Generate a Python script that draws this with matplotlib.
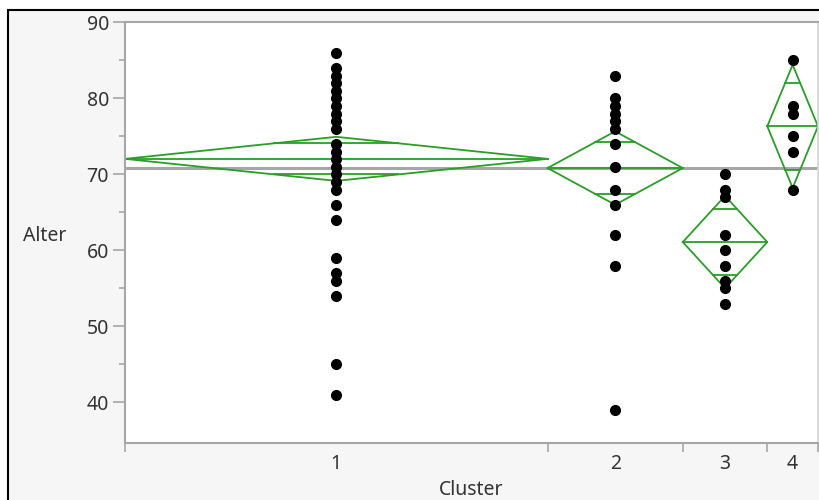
import matplotlib.pyplot as plt
import matplotlib.patches as patches
import numpy as np

plt.rcParams['font.family'] = ['Noto Sans', 'DejaVu Sans']

# # # # # # # # # #   DATA   # # # # # # # # # #

# Alter per cluster (one dot per distinct value)
alter_c1 = [86, 84, 83, 82, 81, 80, 79, 78, 77, 76, 74, 73, 72, 71, 70, 69, 68,
            66, 64, 59, 57, 56, 54, 45, 41]
alter_c2 = [83, 80, 79, 78, 77, 76, 74, 71, 68, 66, 62, 58, 39]
alter_c3 = [70, 68, 67, 62, 60, 58, 56, 55, 53]
alter_c4 = [85, 79, 78, 75, 73, 68]

cluster_labels = ['1', '2', '3', '4']
cluster_n = [50, 16, 10, 6]                 # group sizes -> x widths
cluster_mean = [72.05, 70.84, 61.1, 76.33]
cluster_ci = [2.9, 4.83, 6.07, 8.1]         # 95% CI half width of the mean

groups = [alter_c1, alter_c2, alter_c3, alter_c4]

# x layout proportional to group size
edges = np.concatenate([[0], np.cumsum(cluster_n)])
centers = edges[:-1] + np.array(cluster_n) / 2.0
grand_mean = np.average(cluster_mean, weights=cluster_n)

# # # # # # # # # #   FIGURE   # # # # # # # # # #

fig = plt.figure(figsize=(8.2, 5), dpi=100)
fig.patch.set_facecolor('white')
frame = patches.Rectangle((8 / 820, -0.05), 1.0, 0.98 + 0.05, transform=fig.transFigure,
                          facecolor='#f6f6f6', edgecolor='black', linewidth=1.5, zorder=-10)
fig.add_artist(frame)

ax = fig.add_axes([125 / 820, 57.3 / 500, 693 / 820, 421 / 500])
ax.set_facecolor('white')

green = '#2a9d2a'
grey = '#a6a6a6'

# grand mean
ax.axhline(grand_mean, color=grey, linewidth=2.2, zorder=1)

# mean diamonds with overlap marks
for i in range(len(groups)):
    left, right = edges[i], edges[i + 1]
    c = centers[i]
    m = cluster_mean[i]
    h = cluster_ci[i]
    half = (right - left) / 2.0
    ax.plot([left, c, right, c, left], [m, m + h, m, m - h, m],
            color=green, linewidth=1.3, zorder=2)
    ax.plot([left, right], [m, m], color=green, linewidth=1.3, zorder=2)
    d = h / np.sqrt(2)
    w = half * (1 - d / h)
    for y in [m + d, m - d]:
        ax.plot([c - w, c + w], [y, y], color=green, linewidth=1.3, zorder=2)

# data points
for i, vals in enumerate(groups):
    ax.plot(np.full(len(vals), centers[i]), vals, 'o', color='black',
            markersize=7, zorder=5, clip_on=False)

# # # # # # # # # #   AXES   # # # # # # # # # #

ax.set_xlim(0, edges[-1])
ax.set_ylim(34.7, 90.1)

for side in ['left', 'bottom', 'top']:
    ax.spines[side].set_color(grey)
    ax.spines[side].set_linewidth(1.5)
ax.spines['right'].set_color('#d4d4d4')
ax.spines['right'].set_linewidth(1.2)

ax.set_yticks(np.arange(40, 91, 10))
ax.set_yticks(np.arange(45, 90, 10), minor=True)
ax.tick_params(axis='y', which='major', length=8.5, width=1.2, color=grey,
               labelsize=14, labelcolor='#333333', pad=3)
ax.tick_params(axis='y', which='minor', length=4, width=1.2, color=grey)

ax.set_xticks(edges)
ax.set_xticklabels([''] * len(edges))
ax.set_xticks(centers, minor=True)
ax.set_xticklabels(cluster_labels, minor=True)
ax.tick_params(axis='x', which='major', length=6.5, width=1.2, color=grey)
ax.tick_params(axis='x', which='minor', length=0, labelsize=14,
               labelcolor='#333333', pad=8)

ax.set_ylabel('Alter', rotation=0, fontsize=14, color='#333333', ha='left', va='center')
ax.yaxis.set_label_coords(-0.1476, 0.49)
ax.set_xlabel('Cluster', fontsize=14, color='#333333', va='center')
ax.xaxis.set_label_coords(0.5, -0.112)

fig.savefig('out.png', dpi=100)
